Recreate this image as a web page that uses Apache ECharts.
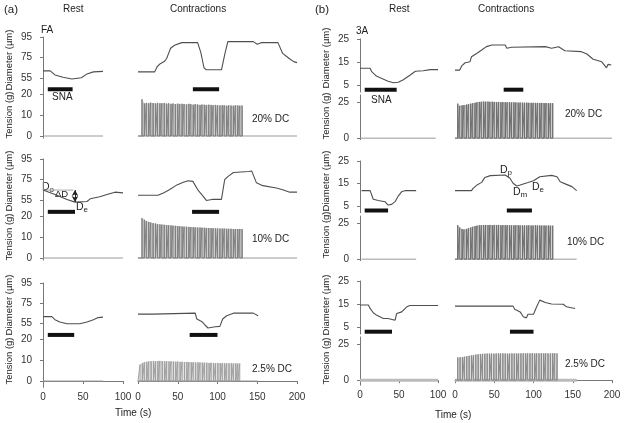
<!DOCTYPE html>
<html>
<head>
<meta charset="utf-8">
<script src="https://cdn.jsdelivr.net/npm/echarts@6/dist/echarts.min.js"></script>
<style>
html, body { margin: 0; padding: 0; background: #fff; }
#main { width: 624px; height: 423px; }
</style>
</head>
<body>
<div id="main"></div>
<script>
// ---- diameter traces, time (s) / diameter (um) ----
// (a) FA
const aRest1T = [0, 9, 15, 25, 36, 48, 55, 63, 75];
const aRest1D = [62, 62, 58, 55.7, 54, 55.3, 59, 61, 61.5];
const aCon1T = [0, 21, 24, 28, 33, 36, 39, 41, 46, 55, 75, 79, 83, 86, 105, 109, 113, 145, 150, 155, 176, 182, 187, 191, 196, 200];
const aCon1D = [61, 61, 66, 69, 71, 74, 80, 84, 87, 89.5, 89.5, 80, 65, 63, 63, 77.5, 90.5, 90.5, 88, 89.5, 89.5, 79, 76, 73.5, 71, 70];
const aRest2T = [0, 15, 30, 40, 55, 59, 71, 80, 90, 100];
const aRest2D = [65, 60.7, 56, 53.4, 54, 56.6, 58.5, 60.7, 63, 62.3];
const aCon2T = [0, 25, 32, 40, 49, 57, 63, 69, 75, 82, 86, 93, 105, 109, 113, 120, 139, 143, 149, 157, 174, 181, 191, 200];
const aCon2D = [60, 60, 62.3, 65.5, 70, 72.5, 74, 73.4, 65.5, 59, 55, 56, 56, 75, 78, 82, 83, 83.5, 72, 69.3, 67, 65.5, 63, 63];
const aRest3T = [0, 11, 15, 21, 30, 46, 55, 63, 69, 75];
const aRest3D = [62, 62, 59, 56.7, 55, 55, 56.7, 59, 61, 61.5];
const aCon3T = [0, 19, 21, 72, 74, 80, 84, 88, 97, 103, 106.5, 111.5, 120, 145, 151];
const aCon3D = [64.4, 64.4, 65.4, 65.4, 59.6, 57.3, 54, 50.8, 52, 52.4, 59.6, 62.8, 65.4, 65.4, 62.8];
// (b) 3A
const bRest1T = [0, 13, 15, 21, 28, 36, 43, 49, 55, 64, 71, 81, 90, 100];
const bRest1D = [12.3, 12.3, 10.8, 8.9, 7.9, 6.7, 6, 6.2, 7.2, 9.3, 11, 11.2, 11.7, 11.7];
const bCon1T = [0, 6, 8.5, 13, 19, 21, 28, 34, 40, 47, 64, 66, 72, 115, 123, 132, 140, 161, 168, 176, 187, 193, 195, 199];
const bCon1D = [11.5, 11.5, 13.3, 14.7, 15.1, 17.3, 18.8, 20.2, 21.7, 22.4, 22.4, 21, 21.4, 21.7, 21, 21.6, 19.9, 19.5, 18.5, 16.2, 15.1, 12.5, 14, 13.7];
const bRest2T = [2, 13, 15, 17, 23.5, 32, 36, 40.6, 45, 49, 53.5, 58, 72];
const bRest2D = [11.8, 11.8, 9.9, 8, 7.4, 6.9, 5.4, 5.7, 6.9, 9.4, 11.4, 11.8, 11.8];
const bCon2T = [0, 21, 23, 28, 34, 38, 45, 64, 70, 74, 78.6, 83, 93, 100, 108, 123, 130, 134, 142, 149, 155];
const bCon2D = [11.8, 11.8, 12.8, 14.3, 15.5, 17.7, 18.5, 18.8, 17.3, 15.1, 13.9, 14.3, 15.4, 16.2, 18, 18.6, 18, 15.8, 14.6, 13.6, 11.8];
const bRest3T = [0, 10.7, 13, 17, 21, 30, 36, 38.5, 45, 47, 53.5, 60, 64, 100];
const bRest3D = [14.6, 14.6, 13.1, 11.2, 10.2, 8.7, 8.7, 8, 8, 10.9, 11.6, 13.8, 14.4, 14.4];
const bCon3T = [0, 74, 76, 83, 87, 91, 93, 100, 104, 108, 115, 123, 138, 142, 153];
const bCon3D = [14.1, 14.1, 12.7, 11.6, 9.5, 9, 10.6, 10.6, 13.8, 16.7, 15.7, 15, 14.9, 13.8, 13.1];

// ---- SNA stimulation periods [start, end] (s) ----
const aSnaRest = [[6, 37], [6, 40], [6, 39]];
const aSnaCon = [[69, 102], [68, 102], [65, 100]];
const bSnaRest = [[6, 47], [6, 36], [6, 41]];
const bSnaCon = [[62, 87], [66, 98], [70, 100]];

// ---- tension spikes: times (s) and peak tension (g) ----
const aSpikeT = [5, 8, 10.5, 13.5, 16, 19, 22, 24.5, 27.5, 30, 33, 36, 38.5, 41.5, 44, 47, 50, 52.5, 55.5, 58, 61, 64, 66.5, 69.5, 72, 75, 78, 80.5, 83.5, 86, 89, 92, 94.5, 97.5, 100, 103, 106, 108.5, 111.5, 114, 117, 120, 122.5, 125.5, 128, 131];
const aTen20 = [17.5, 15.5, 15.8, 15.6, 15.9, 15.7, 15.5, 15.8, 15.6, 15.5, 15.7, 15.4, 15.6, 15.3, 15.5, 15.2, 15.4, 15.1, 15.3, 15.2, 15, 15.3, 15.1, 14.9, 15.2, 15, 14.8, 15, 14.9, 14.7, 14.9, 14.8, 14.6, 14.8, 14.7, 14.5, 14.7, 14.6, 14.4, 14.6, 14.5, 14.4, 14.6, 14.5, 14.4, 14.5];
const aTen10 = [19, 18.2, 17.6, 17.2, 16.9, 16.6, 16.4, 16.2, 16, 15.9, 15.8, 15.7, 15.6, 15.5, 15.4, 15.3, 15.2, 15.1, 15, 14.9, 14.9, 14.8, 14.7, 14.7, 14.6, 14.5, 14.5, 14.4, 14.4, 14.3, 14.3, 14.2, 14.2, 14.1, 14.1, 14, 14, 14, 13.9, 13.9, 13.9, 13.8, 13.8, 13.8, 13.8, 13.8];
const aSpikeT3 = [2.5, 5.5, 8, 11, 13.5, 16.5, 19.5, 22, 25, 27.5, 30.5, 33.5, 36, 39, 41.5, 44.5, 47.5, 50, 53, 55.5, 58.5, 61.5, 64, 67, 69.5, 72.5, 75.5, 78, 81, 83.5, 86.5, 89.5, 92, 95, 97.5, 100.5, 103.5, 106, 109, 111.5, 114.5, 117.5, 120, 123, 125.5, 128];
const aTen2 = [7.8, 8.6, 9, 9.2, 9.3, 9.4, 9.5, 9.4, 9.5, 9.6, 9.5, 9.4, 9.5, 9.3, 9.4, 9.3, 9.2, 9.3, 9.1, 9.2, 9, 9.1, 9, 8.9, 9, 8.8, 8.9, 8.8, 8.7, 8.8, 8.7, 8.6, 8.7, 8.6, 8.5, 8.6, 8.5, 8.5, 8.4, 8.5, 8.4, 8.4, 8.3, 8.4, 8.3, 8.3];
const bSpikeT = [3.5, 6, 9, 11.5, 14.5, 17, 20, 22.5, 25.5, 28, 31, 33.5, 36.5, 39, 42, 44.5, 47.5, 50, 53, 55.5, 58.5, 61, 64, 66.5, 69.5, 72, 75, 77.5, 80.5, 83, 86, 88.5, 91.5, 94, 97, 99.5, 102.5, 105, 108, 110.5, 113.5, 116, 119, 121.5, 124.5];
const bTen20 = [24, 22.5, 22.8, 23, 23.3, 23.6, 24, 24.3, 24.6, 25, 25.2, 25.3, 25.4, 25.3, 25.4, 25.2, 25.3, 25.2, 25.1, 25.2, 25, 25.1, 25, 24.9, 25, 24.8, 24.9, 24.8, 24.7, 24.8, 24.7, 24.6, 24.7, 24.6, 24.5, 24.6, 24.5, 24.5, 24.4, 24.5, 24.4, 24.4, 24.3, 24.4, 24.3];
const bTen10 = [23.6, 22, 21, 20.5, 21, 21.5, 22, 22.5, 23, 23.3, 23.5, 23.6, 23.7, 23.8, 23.7, 23.8, 23.7, 23.8, 23.7, 23.8, 23.6, 23.7, 23.6, 23.7, 23.6, 23.5, 23.6, 23.5, 23.6, 23.5, 23.4, 23.5, 23.4, 23.5, 23.4, 23.4, 23.5, 23.4, 23.4, 23.3, 23.4, 23.3, 23.4, 23.3, 23.3];
const bSpikeT3 = [3.5, 6.5, 9.5, 12, 15, 18, 21, 23.5, 26.5, 29.5, 32.5, 35, 38, 41, 44, 46.5, 49.5, 52.5, 55.5, 58, 61, 64, 67, 69.5, 72.5, 75.5, 78.5, 81, 84, 87, 90, 92.5, 95.5, 98.5, 101.5, 104, 107, 110, 113, 115.5, 118.5, 121.5, 124.5, 127, 130];
const bTen2 = [15.8, 15.9, 16.1, 16.3, 16.6, 16.9, 17.2, 17.5, 17.8, 18, 18.2, 18.3, 18.4, 18.5, 18.4, 18.5, 18.4, 18.5, 18.6, 18.5, 18.6, 18.5, 18.4, 18.5, 18.6, 18.5, 18.6, 18.5, 18.6, 18.7, 18.6, 18.7, 18.6, 18.7, 18.6, 18.7, 18.6, 18.7, 18.6, 18.7, 18.6, 18.6, 18.7, 18.6, 18.6];

// end of recorded tension baseline [rest, contractions] (s)
const aTenEnd = [[75, 200], [100, 200], [75, 151]];
const bTenEnd = [[97, 200], [72, 155], [100, 155]];

// reference levels used for Do / delta D marker in (a) 10% rest
const aDoLevel = 65, aDeLevel = 53.6, aDeltaT = 40;

const FONT = '"Liberation Sans", Arial, sans-serif';
const INK = '#333';
const TICK_FS = 10;

const panels = [
  {
    rest: { left: 43, width: 80 }, con: { left: 138, width: 159 },
    diam: { min: 40, max: 95, ticks: [55, 75, 95] },
    ten: { max: 20, ticks: [0, 10, 20] },
    snaLevel: 44, nameX: 9,
    rows: [
      { dTop: 37, dH: 56.4, tTop: 94, tH: 44.1, tMin: -1, dName: 60, tName: 115, restT: aRest1T, restD: aRest1D, conT: aCon1T, conD: aCon1D, spT: aSpikeT, spH: aTen20, fill: '#cfcfcf', spike: '#808080' },
      { dTop: 159, dH: 57, tTop: 216, tH: 44.1, tMin: -1, dName: 181, tName: 237, restT: aRest2T, restD: aRest2D, conT: aCon2T, conD: aCon2D, spT: aSpikeT, spH: aTen10, fill: '#cfcfcf', spike: '#808080' },
      { dTop: 283, dH: 56, tTop: 339, tH: 48.3, tMin: -3, dName: 305, tName: 361, restT: aRest3T, restD: aRest3D, conT: aCon3T, conD: aCon3D, spT: aSpikeT3, spH: aTen2, fill: '#e2e2e2', spike: '#a0a0a0' }
    ],
    snaRest: aSnaRest, snaCon: aSnaCon, tenEnd: aTenEnd
  },
  {
    rest: { left: 360, width: 78 }, con: { left: 455, width: 157 },
    diam: { min: 2, max: 25, ticks: [5, 15, 25] },
    ten: { max: 30, ticks: [0, 25] },
    snaLevel: 3, nameX: 326,
    rows: [
      { dTop: 39, dH: 53, tTop: 95, tH: 44.6, tMin: -1, dName: 58, tName: 116, restT: bRest1T, restD: bRest1D, conT: bCon1T, conD: bCon1D, spT: bSpikeT, spH: bTen20, fill: '#cfcfcf', spike: '#707070' },
      { dTop: 161, dH: 51.7, tTop: 216, tH: 44.6, tMin: -1, dName: 181, tName: 235, restT: bRest2T, restD: bRest2D, conT: bCon2T, conD: bCon2D, spT: bSpikeT, spH: bTen10, fill: '#d4d4d4', spike: '#707070' },
      { dTop: 281, dH: 53, tTop: 337, tH: 48.2, tMin: -3.5, dName: 305, tName: 361, restT: bRest3T, restD: bRest3D, conT: bCon3T, conD: bCon3D, spT: bSpikeT3, spH: bTen2, fill: '#e0e0e0', spike: '#8a8a8a', thickBase: true }
    ],
    snaRest: bSnaRest, snaCon: bSnaCon, tenEnd: bTenEnd
  }
];

const grids = [], xAxes = [], yAxes = [], series = [];

function addPlot(left, width, top, height, xMax, y, showY, showX) {
  grids.push({ left: left, top: top, width: width, height: height, containLabel: false, outerBoundsMode: 'none' });
  const gi = grids.length - 1;
  xAxes.push({
    type: 'value', gridIndex: gi, min: 0, max: xMax, interval: 50, show: showX,
    axisLine: { show: true, lineStyle: { color: '#777' } },
    axisTick: { show: true, length: 3, lineStyle: { color: '#777' } },
    axisLabel: { fontSize: TICK_FS, color: INK, margin: 5, fontFamily: FONT },
    splitLine: { show: false }
  });
  yAxes.push({
    type: 'value', gridIndex: gi, min: y.min, max: y.max, show: showY, offset: 7,
    axisLine: { show: true, lineStyle: { color: '#777' } },
    axisTick: { show: true, length: 3, customValues: y.ticks, lineStyle: { color: '#777' } },
    axisLabel: { customValues: y.ticks, fontSize: TICK_FS, color: INK, margin: 4, fontFamily: FONT },
    splitLine: { show: false }
  });
  return gi;
}

function zip(T, V) { return T.map((t, i) => [t, V[i]]); }

function addLine(gi, data, style, extra) {
  series.push(Object.assign({
    type: 'line', xAxisIndex: gi, yAxisIndex: gi, data: data,
    symbol: 'none', showSymbol: false, silent: true, animation: false,
    lineStyle: style, z: 3
  }, extra || {}));
}

function spikeData(T, H) {
  const d = [[0, 0]];
  T.forEach((t, i) => { d.push([t, 0], [t, H[i]], [t, 0]); });
  return d;
}

const graphic = [];
function txt(text, left, top, size) {
  graphic.push({ type: 'text', left: left, top: top, silent: true,
    style: { text: text, fontSize: size || 10, fontFamily: FONT, fill: '#222' } });
}
function vtxt(text, cx, cy) {
  graphic.push({ type: 'text', x: cx, y: cy, rotation: Math.PI / 2, silent: true,
    style: { text: text, fontSize: 9.5, fontFamily: FONT, fill: '#222', align: 'center', verticalAlign: 'middle' } });
}
function sub(main, s, left, top) {
  graphic.push({ type: 'text', left: left, top: top, silent: true,
    style: { text: '{m|' + main + '}{s|' + s + '}', fontFamily: FONT, fill: '#222',
      rich: { m: { fontSize: 10.5, lineHeight: 14, fill: '#222', fontFamily: FONT },
              s: { fontSize: 8, lineHeight: 14, verticalAlign: 'bottom', fill: '#222', fontFamily: FONT, padding: [5, 0, 0, 0] } } } });
}

panels.forEach((p) => {
  p.rows.forEach((r, ri) => {
    const last = ri === p.rows.length - 1;
    const dY = { min: p.diam.min, max: p.diam.max, ticks: p.diam.ticks };
    const tY = { min: r.tMin, max: p.ten.max, ticks: p.ten.ticks };

    const gRD = addPlot(p.rest.left, p.rest.width, r.dTop, r.dH, 100, dY, true, false);
    const gRT = addPlot(p.rest.left, p.rest.width, r.tTop, r.tH, 100, tY, true, last);
    const gCD = addPlot(p.con.left, p.con.width, r.dTop, r.dH, 200, dY, false, false);
    const gCT = addPlot(p.con.left, p.con.width, r.tTop, r.tH, 200, tY, false, last);

    vtxt('Diameter (µm)', p.nameX, r.dName);
    vtxt('Tension (g)', p.nameX, r.tName);

    const trace = { color: '#4f4f4f', width: 1.1 };
    addLine(gRD, zip(r.restT, r.restD), trace);
    addLine(gCD, zip(r.conT, r.conD), trace);

    const sna = { color: '#111', width: 4, cap: 'butt' };
    addLine(gRD, [[p.snaRest[ri][0], p.snaLevel], [p.snaRest[ri][1], p.snaLevel]], sna);
    addLine(gCD, [[p.snaCon[ri][0], p.snaLevel], [p.snaCon[ri][1], p.snaLevel]], sna);

    const base = r.thickBase ? { color: '#bbb', width: 3 } : { color: '#9a9a9a', width: 1 };
    addLine(gRT, [[r.restT[0], 0], [p.tenEnd[ri][0], 0]], base);
    addLine(gCT, [[0, 0], [p.tenEnd[ri][1], 0]], base, { z: 2 });

    addLine(gCT, zip(r.spT, r.spH), { width: 0, opacity: 0 }, { areaStyle: { color: r.fill, opacity: 1 }, z: 1 });
    addLine(gCT, spikeData(r.spT, r.spH), { color: r.spike, width: 1 }, { z: 3 });
  });
});

// Do reference line and delta-D arrow in (a) 10% rest (grid index 4 = row 2 rest diameter)
addLine(4, [[0, aDoLevel], [aDeltaT - 2, aDoLevel]], { color: '#aaa', width: 1 }, { z: 2 });
series.push({
  type: 'line', xAxisIndex: 4, yAxisIndex: 4, data: [], silent: true, animation: false,
  markLine: {
    silent: true, symbol: ['arrow', 'arrow'], symbolSize: [5, 6],
    label: { show: false }, lineStyle: { color: '#222', width: 1, type: 'solid' },
    data: [[{ coord: [aDeltaT, aDoLevel] }, { coord: [aDeltaT, aDeLevel] }]]
  }
});

txt('(a)', 4, 4, 11.5); txt('Rest', 63, 4); txt('Contractions', 170, 4);
txt('(b)', 315, 4, 11.5); txt('Rest', 389, 4); txt('Contractions', 478, 4);
txt('FA', 41, 25); txt('3A', 356, 26);
txt('SNA', 52, 92); txt('SNA', 371, 95);
txt('20% DC', 252, 114); txt('10% DC', 252, 234); txt('2.5% DC', 252, 364);
txt('20% DC', 565, 109); txt('10% DC', 567, 237); txt('2.5% DC', 565, 359);
txt('Time (s)', 115, 408); txt('Time (s)', 435, 410);
sub('D', 'o', 42, 181); txt('ΔD', 55, 189, 9.5); sub('D', 'e', 76, 201);
sub('D', 'p', 500, 164); sub('D', 'm', 513, 186); sub('D', 'e', 532, 181);

const chart = echarts.init(document.getElementById('main'), null, { renderer: 'canvas' });
chart.setOption({
  animation: false,
  backgroundColor: '#fff',
  textStyle: { fontFamily: FONT },
  grid: grids, xAxis: xAxes, yAxis: yAxes, series: series, graphic: graphic
});
</script>
</body>
</html>
